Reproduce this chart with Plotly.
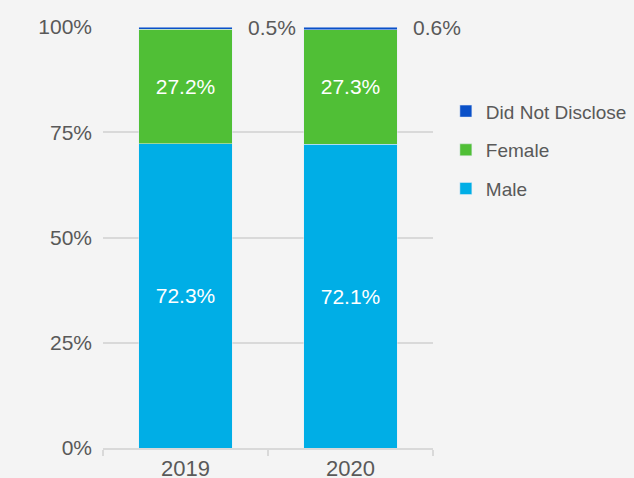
import plotly.graph_objects as go

# dados
years = ["2019", "2020"]
male = [72.3, 72.1]
female = [27.2, 27.3]
not_disclosed = [0.5, 0.6]
y_ticks = [0, 25, 50, 75, 100]

c_male = "#00aee6"
c_female = "#50bf36"
c_nd = "#0a50c8"
txt = "#595959"
font = "Liberation Sans"

fig = go.Figure()
fig.add_trace(go.Bar(
    x=years, y=male, name="Male", marker_color=c_male,
    legendgroup="m", legendrank=3,
    text=[f"{v:.1f}%" for v in male], textposition="inside",
    insidetextanchor="middle", textfont=dict(color="white", size=21, family=font),
))
fig.add_trace(go.Bar(
    x=years, y=female, name="Female", marker_color=c_female,
    legendgroup="f", legendrank=2,
    text=[f"{v:.1f}%" for v in female], textposition="inside",
    insidetextanchor="middle", textfont=dict(color="white", size=21, family=font),
))
fig.add_trace(go.Bar(
    x=years, y=not_disclosed, name="Did Not Disclose", marker_color=c_nd,
    legendgroup="n", legendrank=1,
))

# rotulos do topo ao lado da barra (x pelo indice da categoria)
for i, (m, f, n) in enumerate(zip(male, female, not_disclosed)):
    fig.add_annotation(
        x=i, y=m + f + n, text=f"{n:.1f}%", showarrow=False,
        xanchor="left", yanchor="middle", xshift=60,
        font=dict(size=21, color=txt, family=font),
    )

fig.update_layout(
    barmode="stack",
    bargap=0.435,
    width=634, height=478,
    paper_bgcolor="#f4f4f4", plot_bgcolor="#f4f4f4",
    margin=dict(l=103, r=201, t=27, b=30, autoexpand=False),
    font=dict(family=font, color=txt, size=21),
    legend=dict(
        x=1.039, y=0.845, xanchor="left", yanchor="top",
        traceorder="grouped", font=dict(size=19, color=txt),
        tracegroupgap=11, bgcolor="rgba(0,0,0,0)",
    ),
    xaxis=dict(
        type="category", range=[-0.5, 1.5], automargin=False,
        showline=True, linecolor="#d9d9d9", linewidth=2,
        ticks="outside", tickson="boundaries", ticklen=6, tickcolor="#d9d9d9",
        tickwidth=2, showgrid=False, tickfont=dict(size=22, color=txt),
    ),
    yaxis=dict(
        range=[0, 100], tickmode="array", tickvals=y_ticks,
        ticktext=[f"{v}%" for v in y_ticks], automargin=False,
        showgrid=True, gridcolor="#d9d9d9", gridwidth=2, zeroline=False,
        showline=False, ticklabelstandoff=10, tickfont=dict(size=21, color=txt),
    ),
)

fig.write_html("out.html", config={"displayModeBar": False},
               post_script="document.body.style.margin='0';")
